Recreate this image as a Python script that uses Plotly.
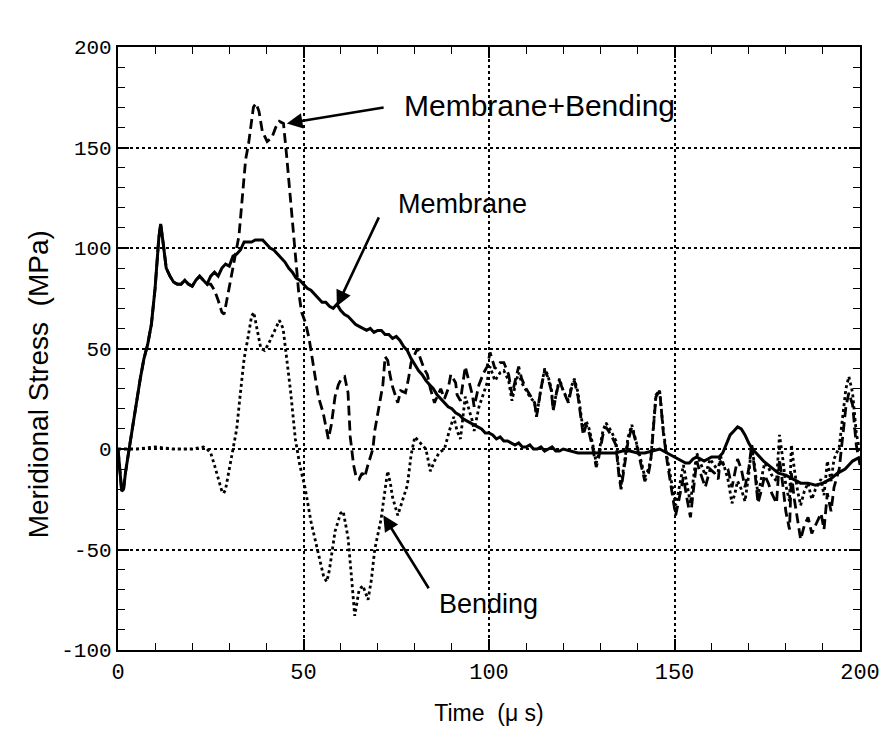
import plotly.graph_objects as go

# Membrane (solid)
mem_t = [0,0.5,1,1.5,2,3,4,5,6,7,8,9,10,11,11.5,12,13,14,15,16,17,18,19,20,21,22,23,24,25,26,27,28,29,30,31,32,33,34,35,36,37,38,39,40,41,42,43,44,45,46,47,48,49,50,51,52,53,54,55,56,57,58,59,60,61,62,63,64,65,66,67,68,69,70,71,72,73,74,75,76,77,78,79,80,81,82,83,84,85,86,87,88,89,90,91,92,93,94,95,96,97,98,99,100,101,102,103,104,105,106,107,108,109,110,111,112,113,114,115,116,117,118,119,120,122,124,126,128,130,132,134,136,138,140,142,144,146,147,149,151,153,154,155,156,158,160,162,163,164,165,166,167,168,169,170,171,172,174,176,178,180,182,184,186,188,190,192,194,196,198,200]
mem_y = [0,-10,-21,-20,-12,0,12,25,35,45,52,62,80,105,112,105,90,86,83,82,82,84,82,81,84,86,84,82,86,88,86,90,92,91,96,97,99,103,103,103,104,104,104,102,100,99,97,95,93,90,88,85,84,82,80,79,77,75,73,73,71,70,72,69,67,66,64,62,61,60,59,60,58,59,59,57,57,55,56,54,51,49,45,42,39,37,34,32,30,27,25,23,21,20,18,17,15,14,13,12,11,10,8,8,7,5,6,4,4,3,2,3,1,1,2,0,0,1,-1,0,1,-1,-1,0,-1,-2,-2,-2,-2,-2,-2,-1,-1,-2,-2,-1,0,-1,-3,-5,-7,-7,-5,-4,-6,-4,-4,-2,3,7,9,11,10,7,3,0,-2,-6,-9,-12,-13,-15,-17,-17,-18,-17,-15,-12,-10,-6,-4]

# Membrane+Bending (dashed)
mb_t = [0,0.5,1,1.5,2,3,4,5,6,7,8,9,10,11,11.5,12,13,14,15,16,17,18,19,20,21,22,23,24,25,26,27,28,28.6,29.5,30.5,31.5,32.6,33.5,34.4,35.2,36,36.5,37.2,38,38.9,40.2,41.5,42.5,43.5,44.6,45.5,46.4,47.4,47.8,48.7,49.5,50.5,51.5,52.7,54,55.3,56,56.7,57.5,58.5,59.4,60.2,61.1,62,62.6,63,63.5,64.2,65,65.8,66.5,67.2,68,68.7,69.2,70,71.4,72,72.7,73.3,74,75.4,76.2,77.5,78.3,79,80,80.7,81.5,82.5,83.4,84.2,85.3,86.5,87,88,89,89.7,91,91.4,92.3,93.6,94.5,95.5,96,97.3,98.6,99.5,100.3,101,101.6,103,104,105.3,106.2,107.2,108,108.8,109.7,111,112.3,112.8,114,115,115.8,116.8,117.3,118.2,119,120,121.4,122.2,123,124,125,125.4,126.2,127,128,128.9,129.5,130.7,131.5,132.9,134.2,135,135.6,136.5,137.5,138.5,139.8,141,142,143,143.6,144.3,145,146,146.5,147,148,149,149.7,150.3,151,152.4,153.3,154.3,155,156,157,158.3,159.6,160.8,161.8,162.3,163.3,164.4,165.5,166.3,167,168,169,170,170.8,171.7,172.5,173.5,174.3,175.3,176.2,177.5,178.3,179.2,180,181,181.5,182.3,183.2,184,185,186,187,188,189.5,190.3,191.2,192.2,193,194.4,195.2,196.2,197,198,199,200]
mb_y = [0,-10,-21,-20,-12,0,12,25,35,45,52,62,80,105,112,105,90,86,83,82,82,84,82,81,84,86,84,82,82,79,74,68,67,76,86,96,106,125,144,152,164,170,172,168,158,153,155,160,163,162,145,127,106,96,78,68,63,55,41,26,18,12,5,12,26,32,35,36,28,6,0,-8,-14,-15,-12,-14,-9,-4,0,9,18,32,46,44,37,31,23,29,28,35,43,47,50,45,40,37,30,23,28,30,25,30,37,33,27,24,41,34,27,21,32,38,41,48,44,40,43,43,37,27,35,41,35,31,27,23,16,30,39,36,29,19,28,34,29,23,30,34,26,12,7,12,8,0,-9,-5,7,11,7,2,-13,-20,-9,4,11,2,-8,-16,-12,-6,10,26,29,18,8,-6,-18,-26,-33,-27,-14,-24,-34,-22,-6,-12,-19,-10,-12,-15,-6,-8,-10,-19,-12,-5,-10,-19,-10,2,-12,-27,-20,-13,-17,-22,-27,-5,-18,-31,-40,-12,-25,-37,-45,-38,-34,-42,-38,-32,-40,-22,-31,-19,-10,5,21,28,22,2,-8]

# Bending (dotted)
b_t = [0,5,10,15,20,23,24,25,26,27,28,28.5,29,30,31,32,33,34,35,36,36.6,37.5,38.5,39.5,40.5,42,43.5,44.5,45.5,46.5,47.8,49,50.5,52,54,55.5,56.3,57,58.5,60,60.7,62,63,63.8,65,66,67.4,68.3,69.2,70.9,72,72.7,73.5,74,75.4,76.5,78,79,80,81.5,83,84.2,85.3,86.5,88,89.3,90.5,91.4,92.3,93.6,94.5,95.5,96,97.3,98.6,99.5,100,100.3,101,101.6,103,104,105.3,106.2,107.2,108,108.8,109.7,111,112.3,112.8,114,115,115.8,116.8,117.3,118.2,119,120,121.4,122.2,123,124,125,125.4,126.2,127,128,128.9,129.5,130.7,131.5,132.9,134.2,135,135.6,136.5,137.5,138.5,139.8,141,142,143,143.6,144.3,145,146,146.5,147,148,149,149.7,150.3,151,152.4,153.3,154.3,155,156,157,158.3,159.6,160.8,161.8,162.3,163.3,164.4,165.5,166.3,167,168,169,170,170.8,171.7,172.5,173.5,174.3,175.3,176.2,177.5,178.3,179.2,180,181,181.5,182.3,183.2,184,185,186,187,188,189.5,190.3,191.2,192.2,193,194.4,195.2,196.2,197,198,199,200]
b_y = [0,0,1,0,0,1,0,-2,-8,-15,-21,-22,-20,-10,0,10,28,45,55,66,68,60,50,49,52,58,64,60,45,29,5,-8,-20,-36,-52,-64,-66,-60,-41,-32,-31,-44,-65,-83,-70,-68,-75,-65,-50,-35,-20,-11,-18,-24,-33,-27,-18,-3,6,3,0,-11,-6,-2,0,9,16,9,5,26,20,14,9,21,28,33,40,41,37,34,38,39,34,24,33,38,33,30,26,23,16,30,40,37,30,20,29,35,29,24,31,35,28,14,9,14,10,2,-7,-3,9,13,9,4,-11,-18,-7,6,12,3,-6,-14,-10,-5,11,27,29,18,9,-4,-15,-22,-28,-22,-8,-17,-27,-16,-2,-7,-13,-5,-8,-11,-3,-8,-15,-27,-22,-16,-20,-26,-13,2,-10,-23,-14,-7,-9,-13,-16,7,-5,-18,-26,2,-10,-21,-28,-21,-17,-25,-20,-15,-23,-6,-16,-5,1,15,30,36,28,8,-2]

x_ticks = [0, 50, 100, 150, 200]
y_ticks = [-100, -50, 0, 50, 100, 150, 200]

fig = go.Figure()
fig.add_trace(go.Scatter(x=b_t, y=b_y, mode="lines", name="Bending",
                         line=dict(color="black", width=2.8, dash="3px,3px")))
fig.add_trace(go.Scatter(x=mb_t, y=mb_y, mode="lines", name="Membrane+Bending",
                         line=dict(color="black", width=2.8, dash="10px,5px")))
fig.add_trace(go.Scatter(x=mem_t, y=mem_y, mode="lines", name="Membrane",
                         line=dict(color="black", width=3)))

xtickfont = dict(family="Liberation Mono, DejaVu Sans Mono, monospace", size=22, color="black")
ytickfont = dict(family="Liberation Mono, DejaVu Sans Mono, monospace", size=21, color="black")
sans = "Liberation Sans, Arial, sans-serif"

fig.update_xaxes(range=[0, 200], tickvals=x_ticks, ticktext=[str(v) for v in x_ticks],
                 showgrid=True, gridcolor="black", gridwidth=1.6, griddash="dot",
                 showline=True, linecolor="black", linewidth=2.2, mirror="allticks",
                 ticks="inside", ticklen=11, tickwidth=1.6, tickcolor="black",
                 minor=dict(dtick=10, ticks="inside", ticklen=7, tickwidth=1.4, tickcolor="black", showgrid=False),
                 tickfont=xtickfont, zeroline=False,
                 title=dict(text="Time  (\u03bc s)", font=dict(family=sans, size=23, color="black"),
                            standoff=20))
fig.update_yaxes(range=[-100, 200], tickvals=y_ticks, ticktext=[str(v) for v in y_ticks],
                 showgrid=True, gridcolor="black", gridwidth=1.6, griddash="dot",
                 showline=True, linecolor="black", linewidth=2.2, mirror="allticks",
                 ticks="inside", ticklen=11, tickwidth=1.6, tickcolor="black",
                 minor=dict(dtick=10, ticks="inside", ticklen=7, tickwidth=1.4, tickcolor="black", showgrid=False),
                 tickfont=ytickfont, zeroline=False)

# y-axis title (placed as rotated text, slightly below the axis centre as in the reference)
fig.add_annotation(xref="paper", yref="paper", x=-0.107, y=0.44, text="Meridional Stress  (MPa)",
                   textangle=-90, showarrow=False, xanchor="center", yanchor="middle",
                   font=dict(family=sans, size=28, color="black"))

arr = dict(xref="x", yref="y", axref="x", ayref="y", showarrow=True, arrowhead=2,
           arrowsize=1.2, arrowwidth=2.6, arrowcolor="black", text="")
fig.add_annotation(x=45.5, y=162, ax=72, ay=170, **arr)
fig.add_annotation(x=76.5, y=171, text="Membrane+Bending", showarrow=False, xanchor="left",
                   xref="x", yref="y", font=dict(family=sans, size=30, color="black"))
fig.add_annotation(x=59, y=71, ax=70.5, ay=116, **arr)
fig.add_annotation(x=75, y=122, text="Membrane", showarrow=False, xanchor="left",
                   xref="x", yref="y", font=dict(family=sans, size=27, color="black"))
fig.add_annotation(x=71.5, y=-33, ax=84, ay=-70, **arr)
fig.add_annotation(x=86, y=-77, text="Bending", showarrow=False, xanchor="left",
                   xref="x", yref="y", font=dict(family=sans, size=27, color="black"))

fig.update_layout(width=892, height=745, margin=dict(l=118, r=26, t=47, b=95),
                  paper_bgcolor="white", plot_bgcolor="white", showlegend=False)

fig.write_html("out.html")
